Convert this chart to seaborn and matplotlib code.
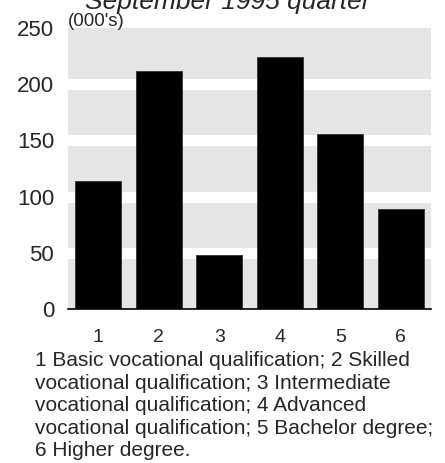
import matplotlib
matplotlib.use("Agg")
import matplotlib.pyplot as plt
import seaborn as sns
import pandas as pd

# values (thousands)
categories = ["1", "2", "3", "4", "5", "6"]
persons = [114, 212, 48, 224, 156, 89]
y_ticks = [0, 50, 100, 150, 200, 250]

title_text = "September 1995 quarter"
unit_text = "(000's)"
footnote = ("1 Basic vocational qualification; 2 Skilled\n"
            "vocational qualification; 3 Intermediate\n"
            "vocational qualification; 4 Advanced\n"
            "vocational qualification; 5 Bachelor degree;\n"
            "6 Higher degree.")

sns.set_style("white")
plt.rcParams['font.family'] = ['Liberation Sans', 'DejaVu Sans']

df = pd.DataFrame({"Qualification": categories, "Persons": persons})

fig = plt.figure(figsize=(4.45, 4.63), dpi=100)
ax = fig.add_axes([68 / 445, 1 - 309 / 463, 363 / 445, 281 / 463])
ax.set_facecolor("#e5e5e5")

sns.barplot(data=df, x="Qualification", y="Persons", color="black",
            width=0.76, edgecolor="#333333", linewidth=0.6, ax=ax, zorder=3)

# white bands at each interior gridline
for t in y_ticks[1:-1]:
    ax.axhline(t, color="white", linewidth=8, zorder=1)

ax.set_ylim(0, 250)
ax.set_xlim(-0.5, 5.5)
ax.set_yticks(y_ticks)
ax.set_xlabel("")
ax.set_ylabel("")
ax.tick_params(axis="y", length=0, labelsize=16, pad=10)
ax.tick_params(axis="x", length=0, labelsize=14, pad=14.5)
for side in ["left", "right", "top"]:
    ax.spines[side].set_visible(False)
ax.spines["bottom"].set_color("black")
ax.spines["bottom"].set_linewidth(1.2)
ax.spines["bottom"].set_zorder(4)

fig.text(68 / 445, 1 - 26 / 463, unit_text, fontsize=13.5, va="baseline", ha="left")
fig.text(228 / 445, 1 - 9 / 463, title_text, fontsize=19, style="italic",
         va="baseline", ha="center")
fig.text(35 / 445, 1 - 351 / 463, footnote, fontsize=15, va="top", ha="left",
         linespacing=1.24)

fig.savefig("out.png", dpi=100)
